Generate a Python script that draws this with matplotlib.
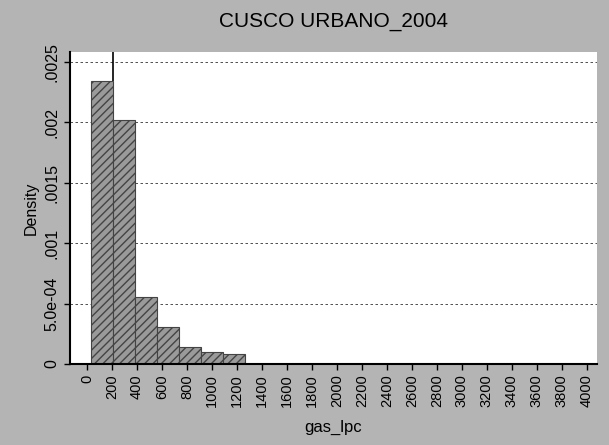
import numpy as np
import matplotlib
matplotlib.use("Agg")
import matplotlib.pyplot as plt

plt.rcParams['font.family'] = ['Liberation Sans', 'DejaVu Sans']

# histogram bins (left edge) and density
bin_left = [30, 206, 382, 558, 734, 910, 1086]
bin_width = 176
density = [0.00234, 0.00202, 0.000555, 0.000305, 0.00014, 0.0001, 0.00008]

yticks = [0, 0.0005, 0.001, 0.0015, 0.002, 0.0025]
ytick_labels = ["0", "5.0e-04", ".001", ".0015", ".002", ".0025"]
xticks = list(range(0, 4001, 200))

fig = plt.figure(figsize=(6.09, 4.45), dpi=100)
fig.patch.set_facecolor('#b4b4b4')
ax = fig.add_axes([0.115, 0.182, 0.865, 0.701])
ax.set_facecolor('white')

ax.bar(bin_left, density, width=bin_width, align='edge',
       color='#9a9a9a', edgecolor='#444444', linewidth=0.8, hatch='////', zorder=2)
# stray edge line above first bar in the original
ax.vlines(bin_left[1], density[0], 0.00258, color='black', linewidth=1.2, zorder=3)

ax.set_xlim(-136, 4080)
ax.set_ylim(0, 0.00258)
ax.set_yticks(yticks)
ax.set_yticklabels(ytick_labels, rotation=90, va='center', fontsize=11.5)
ax.set_xticks(xticks)
ax.set_xticklabels([str(v) for v in xticks], rotation=90, fontsize=10.5)

for y in yticks[1:]:
    ax.axhline(y, color='#333333', linestyle=(0, (3, 3)), linewidth=0.6, zorder=1)

ax.spines['top'].set_visible(False)
ax.spines['right'].set_visible(False)
ax.spines['left'].set_linewidth(1.5)
ax.spines['bottom'].set_linewidth(1.5)
ax.tick_params(length=4, width=1, colors='black')

ax.set_title("CUSCO URBANO_2004", fontsize=15, pad=18)
ax.set_ylabel("Density", fontsize=11.5, labelpad=4)
ax.set_xlabel("gas_lpc", fontsize=12, labelpad=9)

fig.savefig("out.png", dpi=100, facecolor=fig.get_facecolor())
